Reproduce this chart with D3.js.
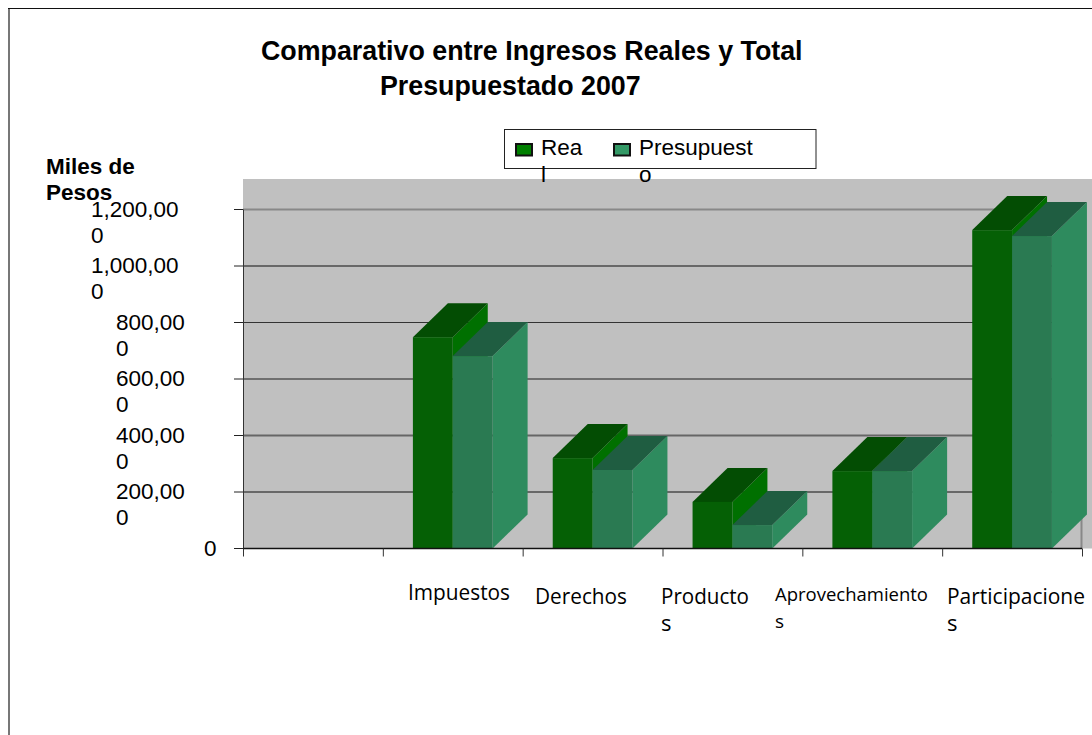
<!DOCTYPE html>
<html>
<head>
<meta charset="utf-8">
<script src="https://cdn.jsdelivr.net/npm/d3@7"></script>
<style>
  html, body { margin: 0; padding: 0; background: #fff; overflow: hidden; }
  text { font-family: "Liberation Sans", Arial, sans-serif; fill: #000; }
</style>
</head>
<body>
<svg id="chart" width="1092" height="735"></svg>
<script>
// data, first category is empty in the original
const categories = ["", "Impuestos", "Derechos", "Productos", "Aprovechamientos", "Participaciones"];
const seriesNames = ["Real", "Presupuesto"];
const realValues = [null, 748000, 320000, 165000, 274000, 1127000];
const presupuestoValues = [null, 681000, 278000, 83000, 274000, 1106000];
const yTicks = [0, 200000, 400000, 600000, 800000, 1000000, 1200000];

// labels wrap inside the narrow boxes the way the original does
const yTickLines = {
  0: ["0"],
  200000: ["200,00", "0"],
  400000: ["400,00", "0"],
  600000: ["600,00", "0"],
  800000: ["800,00", "0"],
  1000000: ["1,000,00", "0"],
  1200000: ["1,200,00", "0"]
};
const catLines = {
  "Impuestos": { lines: ["Impuestos"], x: 408, y: 600, size: 22, len: 102 },
  "Derechos": { lines: ["Derechos"], x: 535, y: 604, size: 22, len: 92 },
  "Productos": { lines: ["Producto", "s"], x: 661, y: 604, size: 22, len: 88 },
  "Aprovechamientos": { lines: ["Aprovechamiento", "s"], x: 775, y: 601, size: 19, len: 153 },
  "Participaciones": { lines: ["Participacione", "s"], x: 947, y: 604, size: 22, len: 138 }
};

// gridline look changes from line to line in the original
const gridStyle = {
  200000: { color: "#111", width: 1 },
  400000: { color: "#666", width: 2 },
  600000: { color: "#555", width: 1.5 },
  800000: { color: "#333", width: 1 },
  1000000: { color: "#111", width: 1 },
  1200000: { color: "#888", width: 2 }
};

const colors = {
  Real: { front: "#056005", top: "#034d03", side: "#007000", key: "#008000" },
  Presupuesto: { front: "#2a7a52", top: "#1f5d41", side: "#2e8b5e", key: "#339966" }
};

const svg = d3.select("#chart");

const x = d3.scaleBand().domain(categories).range([243, 1082]).paddingInner(0.43).paddingOuter(0.215);
const xStep = d3.scaleBand().domain(categories).range([243, 1082]);
const xSeries = d3.scaleBand().domain(seriesNames).range([0, x.bandwidth()]);
const y = d3.scaleLinear().domain([0, 1200000]).range([548.5, 209.5]);

// 3d offset of the bars
const depthX = 35, depthY = 34;

// outer frame
svg.append("line")
  .attr("x1", 9).attr("x2", 9).attr("y1", 8).attr("y2", 735)
  .attr("stroke", "#777").attr("stroke-width", 2);
svg.append("line")
  .attr("x1", 8).attr("x2", 1092).attr("y1", 8.5).attr("y2", 8.5)
  .attr("stroke", "#111");

// plot background
svg.append("rect")
  .attr("x", 243).attr("y", 179)
  .attr("width", 849).attr("height", 369.5)
  .attr("fill", "#c0c0c0");

// gridlines
svg.selectAll("line.grid")
  .data(yTicks.filter(d => d > 0))
  .enter()
  .append("line")
  .attr("class", "grid")
  .attr("x1", 243).attr("x2", 1082)
  .attr("y1", d => y(d)).attr("y2", d => y(d))
  .attr("stroke", d => gridStyle[d].color)
  .attr("stroke-width", d => gridStyle[d].width);

// right edge of the plot wall
svg.append("line")
  .attr("x1", 1081.5).attr("x2", 1081.5)
  .attr("y1", y(1200000)).attr("y2", y(0))
  .attr("stroke", "#888").attr("stroke-width", 2);

// bars
const rows = [];
categories.forEach((c, i) => {
  if (realValues[i] !== null) {
    rows.push({ cat: c, name: "Real", value: realValues[i] });
  }
});
categories.forEach((c, i) => {
  if (presupuestoValues[i] !== null) {
    rows.push({ cat: c, name: "Presupuesto", value: presupuestoValues[i] });
  }
});

// real is drawn first so its side sits behind the presupuesto front
const bars = svg.selectAll("g.bar")
  .data(rows)
  .enter()
  .append("g")
  .attr("class", "bar");

bars.append("path")
  .attr("fill", d => colors[d.name].side)
  .attr("d", d => {
    const r = x(d.cat) + xSeries(d.name) + xSeries.bandwidth();
    return d3.line()([[r, y(d.value)], [r + depthX, y(d.value) - depthY], [r + depthX, y(0) - depthY], [r, y(0)]]) + "Z";
  });

bars.append("path")
  .attr("fill", d => colors[d.name].top)
  .attr("d", d => {
    const l = x(d.cat) + xSeries(d.name);
    const r = l + xSeries.bandwidth();
    return d3.line()([[l, y(d.value)], [l + depthX, y(d.value) - depthY], [r + depthX, y(d.value) - depthY], [r, y(d.value)]]) + "Z";
  });

bars.append("rect")
  .attr("fill", d => colors[d.name].front)
  .attr("x", d => x(d.cat) + xSeries(d.name))
  .attr("y", d => y(d.value))
  .attr("width", xSeries.bandwidth())
  .attr("height", d => y(0) - y(d.value));

// axes
const yAxis = svg.append("g");
yAxis.append("line")
  .attr("x1", 243.5).attr("x2", 243.5)
  .attr("y1", y(1200000)).attr("y2", y(0))
  .attr("stroke", "#333");
yAxis.selectAll("line.tick")
  .data(yTicks)
  .enter()
  .append("line")
  .attr("class", "tick")
  .attr("x1", 234).attr("x2", 243)
  .attr("y1", d => y(d)).attr("y2", d => y(d))
  .attr("stroke", "#222");

yAxis.selectAll("text.ylab")
  .data(yTicks)
  .enter()
  .append("text")
  .attr("class", "ylab")
  .attr("font-size", 22.5)
  .attr("y", d => y(d) + 7)
  .each(function (d) {
    const lx = d === 0 ? 204 : d >= 1000000 ? 91 : 116;
    d3.select(this).selectAll("tspan")
      .data(yTickLines[d])
      .enter()
      .append("tspan")
      .attr("x", lx)
      .attr("dy", (t, i) => i === 0 ? 0 : 26)
      .text(t => t);
  });

const xAxis = svg.append("g");
xAxis.append("line")
  .attr("x1", 243).attr("x2", 1082)
  .attr("y1", y(0)).attr("y2", y(0))
  .attr("stroke", "#111")
  .attr("stroke-width", 1.5);
xAxis.selectAll("line.tick")
  .data(categories.concat(["end"]))
  .enter()
  .append("line")
  .attr("class", "tick")
  .attr("x1", (d, i) => 243.5 + i * xStep.step())
  .attr("x2", (d, i) => 243.5 + i * xStep.step())
  .attr("y1", y(0)).attr("y2", y(0) + 8)
  .attr("stroke", "#333");

// category labels
categories.filter(c => c).forEach(c => {
  const cfg = catLines[c];
  const t = svg.append("text")
    .style("font-family", "'Open Sans'")
    .attr("font-size", cfg.size);
  cfg.lines.forEach((line, i) => {
    const span = t.append("tspan")
      .attr("x", cfg.x)
      .attr("y", cfg.y + i * 27)
      .text(line);
    if (i === 0) span.attr("textLength", cfg.len).attr("lengthAdjust", "spacingAndGlyphs");
  });
});

// titles
svg.append("text")
  .attr("font-size", 26.8).attr("font-weight", "bold")
  .attr("x", 261).attr("y", 60)
  .text("Comparativo entre Ingresos Reales y Total");
svg.append("text")
  .attr("font-size", 26.8).attr("font-weight", "bold")
  .attr("x", 380).attr("y", 95)
  .text("Presupuestado 2007");

const yTitle = svg.append("text").attr("font-size", 22.5).attr("font-weight", "bold");
yTitle.append("tspan").attr("x", 46).attr("y", 174).text("Miles de");
yTitle.append("tspan").attr("x", 46).attr("y", 200).text("Pesos");

// legend
svg.append("rect")
  .attr("x", 504.5).attr("y", 129.5)
  .attr("width", 311.5).attr("height", 39)
  .attr("fill", "#fff")
  .attr("stroke", "#222");

const legendItems = [
  { name: "Real", lines: ["Rea", "l"], sx: 516, tx: 541 },
  { name: "Presupuesto", lines: ["Presupuest", "o"], sx: 614, tx: 639 }
];
legendItems.forEach(item => {
  svg.append("rect")
    .attr("x", item.sx).attr("y", 144)
    .attr("width", 16).attr("height", 11.5)
    .attr("fill", colors[item.name].key)
    .attr("stroke", "#111")
    .attr("stroke-width", 2);
  const t = svg.append("text").attr("font-size", 22.5);
  item.lines.forEach((line, i) => {
    t.append("tspan").attr("x", item.tx).attr("y", 155 + i * 27).text(line);
  });
});
</script>
</body>
</html>
